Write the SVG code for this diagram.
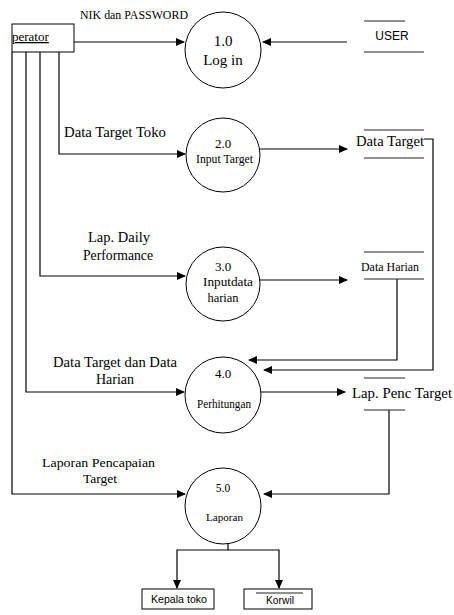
<svg xmlns="http://www.w3.org/2000/svg" width="454" height="615" viewBox="0 0 454 615">
<style>
.ln{fill:none;stroke:#000;stroke-width:1.2}
.st{fill:none;stroke:#222;stroke-width:1.2}
.pc{fill:#fff;stroke:#000;stroke-width:1}
.t{font-family:"Liberation Serif","Times New Roman","DejaVu Serif",serif;fill:#000}
.s{font-family:"Liberation Sans",Arial,sans-serif;fill:#000}
</style>
<defs>
<marker id="ah" markerWidth="9" markerHeight="8" refX="8" refY="4" orient="auto" markerUnits="userSpaceOnUse">
<path d="M0,0 L9,4 L0,8 z" fill="#000"/>
</marker>
</defs>
<rect width="454" height="615" fill="#fff"/>

<g id="connectors">
<path class="ln" d="M74,42 H184" marker-end="url(#ah)"/>
<path class="ln" d="M347,42 H263" marker-end="url(#ah)"/>
<path class="ln" d="M59,52 V154 H185" marker-end="url(#ah)"/>
<path class="ln" d="M40,52 V276 H185" marker-end="url(#ah)"/>
<path class="ln" d="M26,52 V392 H184" marker-end="url(#ah)"/>
<path class="ln" d="M12,52 V494 H185" marker-end="url(#ah)"/>
<path class="ln" d="M260,149 H347" marker-end="url(#ah)"/>
<path class="ln" d="M260,280 H347" marker-end="url(#ah)"/>
<path class="ln" d="M261,392 H345" marker-end="url(#ah)"/>
<path class="ln" d="M424,139 H433 V370 H264" marker-end="url(#ah)"/>
<path class="ln" d="M397,279 V360 H249" marker-end="url(#ah)"/>
<path class="ln" d="M389,410 V494 H264" marker-end="url(#ah)"/>
<path class="ln" d="M228,543 V550 H177 V588" marker-end="url(#ah)"/>
<path class="ln" d="M228,550 H279 V588" marker-end="url(#ah)"/>
<text class="t" x="80" y="19" font-size="12" textLength="108" lengthAdjust="spacingAndGlyphs">NIK dan PASSWORD</text>
<text class="t" x="64" y="137" font-size="14" textLength="102" lengthAdjust="spacingAndGlyphs">Data Target Toko</text>
<text class="t" x="88" y="242" font-size="14" textLength="62" lengthAdjust="spacingAndGlyphs">Lap. Daily</text>
<text class="t" x="83" y="260" font-size="14" textLength="70" lengthAdjust="spacingAndGlyphs">Performance</text>
<text class="t" x="53" y="367" font-size="14" textLength="124" lengthAdjust="spacingAndGlyphs">Data Target dan Data</text>
<text class="t" x="115" y="384" font-size="14" text-anchor="middle">Harian</text>
<text class="t" x="42" y="467" font-size="13.5" textLength="113" lengthAdjust="spacingAndGlyphs">Laporan Pencapaian</text>
<text class="t" x="100" y="483" font-size="13.5" text-anchor="middle">Target</text>
</g>

<g id="operator">
<rect class="pc" x="12" y="24" width="62" height="28"/>
<text class="t" x="12" y="41" font-size="13" text-decoration="underline">perator</text>
</g>

<g id="p1">
<circle class="pc" cx="223" cy="50" r="38"/>
<text class="t" x="223" y="46" font-size="15" text-anchor="middle">1.0</text>
<text class="t" x="223" y="65" font-size="15" text-anchor="middle">Log in</text>
</g>

<g id="user">
<line class="st" x1="364" y1="21" x2="405" y2="21"/>
<text class="s" x="392" y="40" font-size="12" text-anchor="middle">USER</text>
<line class="st" x1="364" y1="52" x2="424" y2="52"/>
</g>

<g id="p2">
<circle class="pc" cx="223" cy="155" r="37"/>
<text class="t" x="223" y="148" font-size="13" text-anchor="middle">2.0</text>
<text class="t" x="196" y="163" font-size="12" textLength="57" lengthAdjust="spacingAndGlyphs">Input Target</text>
</g>

<g id="datatarget">
<line class="st" x1="364" y1="130" x2="424" y2="130"/>
<text class="t" x="356" y="146" font-size="14.5" textLength="68" lengthAdjust="spacingAndGlyphs">Data Target</text>
<line class="st" x1="364" y1="158" x2="424" y2="158"/>
</g>

<g id="p3">
<circle class="pc" cx="223" cy="284" r="37"/>
<text class="t" x="223" y="271" font-size="13" text-anchor="middle">3.0</text>
<text class="t" x="203" y="286" font-size="12" textLength="50" lengthAdjust="spacingAndGlyphs">Inputdata</text>
<text class="t" x="223" y="302" font-size="12.5" text-anchor="middle">harian</text>
</g>

<g id="dataharian">
<line class="st" x1="364" y1="252" x2="424" y2="252"/>
<text class="t" x="361" y="271" font-size="12" textLength="58" lengthAdjust="spacingAndGlyphs">Data Harian</text>
<line class="st" x1="364" y1="279" x2="424" y2="279"/>
</g>

<g id="p4">
<circle class="pc" cx="223" cy="395" r="38"/>
<text class="t" x="223" y="378" font-size="13" text-anchor="middle">4.0</text>
<text class="t" x="197" y="408" font-size="12" textLength="54" lengthAdjust="spacingAndGlyphs">Perhitungan</text>
</g>

<g id="lappenc">
<line class="st" x1="364" y1="378" x2="405" y2="378"/>
<text class="t" x="352" y="398" font-size="14.5" textLength="100" lengthAdjust="spacingAndGlyphs">Lap. Penc Target</text>
<line class="st" x1="364" y1="410" x2="405" y2="410"/>
</g>

<g id="p5">
<circle class="pc" cx="223" cy="506" r="38"/>
<text class="t" x="223" y="492" font-size="11.5" text-anchor="middle">5.0</text>
<text class="t" x="206" y="521" font-size="11" textLength="37" lengthAdjust="spacingAndGlyphs">Laporan</text>
</g>

<g id="kepalatoko">
<rect class="pc" x="142" y="589" width="72" height="20"/>
<text class="s" x="151" y="603" font-size="10.5" textLength="56" lengthAdjust="spacingAndGlyphs">Kepala toko</text>
</g>

<g id="korwil">
<rect class="pc" x="244" y="589" width="68" height="20"/>
<line class="st" x1="256" y1="593" x2="303" y2="593"/>
<text class="s" x="266" y="604" font-size="10" textLength="28" lengthAdjust="spacingAndGlyphs">Korwil</text>
</g>
</svg>
